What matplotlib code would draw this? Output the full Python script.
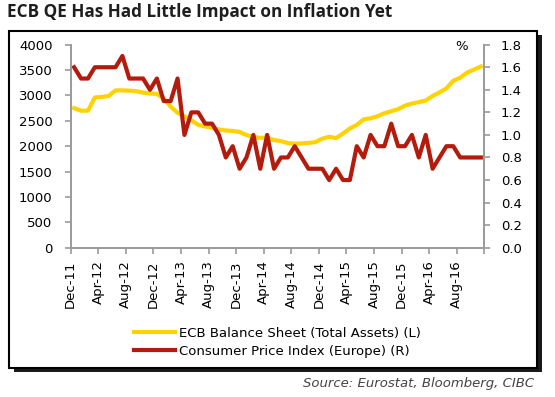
import numpy as np
import matplotlib
matplotlib.use("Agg")
import matplotlib.pyplot as plt
from matplotlib.patches import Rectangle
from matplotlib.lines import Line2D

# monthly values, Dec-11 onwards
ecb_assets = [2750, 2700, 2700, 2960, 2970, 2990, 3100, 3100, 3095, 3085,
              3055, 3040, 3030, 2940, 2780, 2660, 2590, 2510, 2420, 2390,
              2360, 2330, 2310, 2300, 2280, 2220, 2180, 2165, 2170, 2120,
              2100, 2060, 2050, 2055, 2065, 2080, 2150, 2185, 2160, 2250,
              2350, 2420, 2530, 2550, 2590, 2650, 2690, 2730, 2800, 2840,
              2870, 2900, 2990, 3060, 3140, 3290, 3350, 3450, 3510, 3570]
cpi = [1.6, 1.5, 1.5, 1.6, 1.6, 1.6, 1.6, 1.7, 1.5, 1.5,
       1.5, 1.4, 1.5, 1.3, 1.3, 1.5, 1.0, 1.2, 1.2, 1.1,
       1.1, 1.0, 0.8, 0.9, 0.7, 0.8, 1.0, 0.7, 1.0, 0.7,
       0.8, 0.8, 0.9, 0.8, 0.7, 0.7, 0.7, 0.6, 0.7, 0.6,
       0.6, 0.9, 0.8, 1.0, 0.9, 0.9, 1.1, 0.9, 0.9, 1.0,
       0.8, 1.0, 0.7, 0.8, 0.9, 0.9, 0.8, 0.8, 0.8, 0.8]
tick_labels = ["Dec-11", "Apr-12", "Aug-12", "Dec-12", "Apr-13", "Aug-13",
               "Dec-13", "Apr-14", "Aug-14", "Dec-14", "Apr-15", "Aug-15",
               "Dec-15", "Apr-16", "Aug-16", ""]
left_ticks = [0, 500, 1000, 1500, 2000, 2500, 3000, 3500, 4000]
right_ticks = [0.0, 0.2, 0.4, 0.6, 0.8, 1.0, 1.2, 1.4, 1.6, 1.8]

YELLOW = "#FFD200"
RED = "#B31B0C"
GREY = "#9a9a9a"
W, H = 555, 397

plt.rcParams["font.family"] = ["DejaVu Sans"]
fig = plt.figure(figsize=(W / 100, H / 100), dpi=100)

# framed box with drop shadow
fig.patches.append(Rectangle((14 / W, 1 - 372 / H), 528 / W, 337 / H,
                             transform=fig.transFigure, facecolor="#1a1a1a",
                             edgecolor="none", zorder=-3))
fig.patches.append(Rectangle((9.3 / W, 1 - 368 / H), 527.7 / W, 337 / H,
                             transform=fig.transFigure, facecolor="white",
                             edgecolor="black", linewidth=1.5, zorder=-2))

ax = fig.add_axes([70.7 / W, 1 - 247.7 / H, (484.3 - 70.7) / W, 203 / H])
ax2 = ax.twinx()

x = np.arange(len(ecb_assets)) + 0.5
ax.plot(x, ecb_assets, color=YELLOW, linewidth=3, solid_joinstyle="round")
ax2.plot(x, cpi, color=RED, linewidth=3, solid_joinstyle="round")

ax.set_xlim(0, 60)
ax.set_ylim(0, 4000)
ax2.set_ylim(0, 1.8)
ax.set_xticks(np.arange(0, 61, 4))
ax.set_xticklabels(tick_labels, rotation=90)
ax.set_yticks(left_ticks)
ax2.set_yticks(right_ticks)
ax2.set_yticklabels([f"{v:.1f}" for v in right_ticks])

for a in (ax, ax2):
    a.spines["top"].set_visible(False)
    for s in ("left", "right", "bottom"):
        a.spines[s].set_color(GREY)
        a.spines[s].set_linewidth(1.2)
    a.tick_params(colors=GREY, labelcolor="black", labelsize=9.5,
                  length=4, width=1.2, direction="out")
ax.tick_params(axis="y", pad=9)
ax2.tick_params(axis="y", pad=8)
ax.tick_params(axis="x", pad=5)
ax.patch.set_visible(False)

ax2.text(0.945, 0.99, "%", transform=ax2.transAxes, ha="center", va="center",
         fontsize=9.5)

fig.text(7 / W, 1 - 12 / H, "ECB QE Has Had Little Impact on Inflation Yet",
         family="Open Sans", fontweight="bold", fontsize=12.3, ha="left",
         va="center", color="#1e1e1e")

handles = [Line2D([], [], color=YELLOW, linewidth=3),
           Line2D([], [], color=RED, linewidth=3)]
fig.legend(handles, ["ECB Balance Sheet (Total Assets) (L)",
                     "Consumer Price Index (Europe) (R)"],
           loc="upper left", bbox_to_anchor=(134 / W, 1 - 327 / H),
           frameon=False, fontsize=9.5, handlelength=3.1, handletextpad=0.3,
           labelspacing=0.35, borderpad=0, borderaxespad=0)

fig.text(534 / W, 1 - 383 / H, "Source: Eurostat, Bloomberg, CIBC",
         fontsize=9.5, style="italic", ha="right", va="center", color="#444444")

fig.savefig("out.png", dpi=100)
